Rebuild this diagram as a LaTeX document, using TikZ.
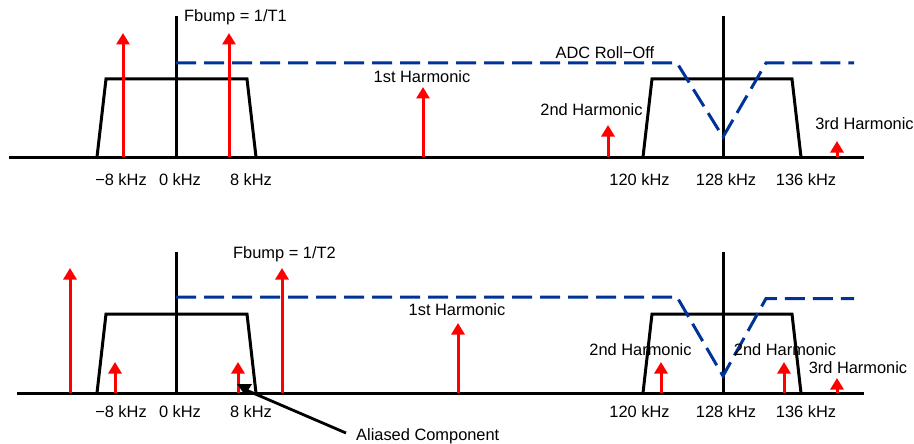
\documentclass[tikz,border=0pt]{standalone}
\usepackage{fontspec}
\setmainfont{Liberation Sans}
\usetikzlibrary{arrows.meta}
\definecolor{rollblue}{RGB}{0,51,153}
\tikzset{
  lbl/.style={inner sep=0pt, font=\fontsize{16.4}{18}\selectfont},
  blk/.style={line width=3pt, black, line join=miter},
  roll/.style={line width=3pt, rollblue, dash pattern=on 20pt off 8pt},
  tone/.style={line width=3pt, red, -{Triangle[width=13pt,length=11.5pt]}},
}
\begin{document}
\begin{tikzpicture}[x=1pt,y=-1pt]
\useasboundingbox (0,0) rectangle (914,444);
% ===== top panel =====
\draw[blk] (9,157) -- (864,157);
\draw[blk] (176,16) -- (176,157);
\draw[blk] (723,16) -- (723,157);
\draw[blk] (97,157) -- (106,79) -- (247,79) -- (256,157);
\draw[blk] (643,157) -- (652,79) -- (792,79) -- (801,157);
\draw[roll] (176,63) -- (677,63) -- (723,137) -- (766,63) -- (854,63);
\draw[tone] (123,157) -- (123,33);
\draw[tone] (229,157) -- (229,33);
\draw[tone] (423,157) -- (423,87);
\draw[tone] (608,157) -- (608,125);
\draw[tone] (837,157) -- (837,141);
\node[lbl, anchor=west] (fb1) at (184,17) {Fbump = 1/T1};
\node[lbl] (adc) at (605,53) {ADC Roll−Off};
\node[lbl] (h1a) at (422,77) {1st Harmonic};
\node[lbl] (h2a) at (591.5,110) {2nd Harmonic};
\node[lbl] (h3a) at (864.5,124) {3rd Harmonic};
\node[lbl] (ta1) at (121,180) {−8 kHz};
\node[lbl] (ta2) at (180,180) {0 kHz};
\node[lbl] (ta3) at (251,180) {8 kHz};
\node[lbl] (ta4) at (639.5,180) {120 kHz};
\node[lbl] (ta5) at (726,180) {128 kHz};
\node[lbl] (ta6) at (806,180) {136 kHz};
% ===== bottom panel =====
\draw[blk] (17,393) -- (864,393);
\draw[blk] (176,252) -- (176,393);
\draw[blk] (723,252) -- (723,393);
\draw[blk] (97,393) -- (106,314) -- (247,314) -- (256,393);
\draw[blk] (643,393) -- (652,314) -- (792,314) -- (801,393);
\draw[roll] (176,297) -- (677,297) -- (723,376) -- (766,298.5) -- (854,298.5);
\draw[tone] (70,393) -- (70,268);
\draw[tone] (115,393) -- (115,362);
\draw[tone] (238,393) -- (238,362);
\draw[tone] (282,393) -- (282,268);
\draw[tone] (458,393) -- (458,323);
\draw[tone] (661,393) -- (661,362);
\draw[tone] (784,393) -- (784,362);
\draw[tone] (837,393) -- (837,378);
\node[lbl, anchor=west] (fb2) at (233,254) {Fbump = 1/T2};
\node[lbl] (h1b) at (457,310) {1st Harmonic};
\node[lbl] (h2b) at (640.5,350) {2nd Harmonic};
\node[lbl] (h2c) at (785,350) {2nd Harmonic};
\node[lbl] (h3b) at (858,368) {3rd Harmonic};
\node[lbl] (tb1) at (121,412) {−8 kHz};
\node[lbl] (tb2) at (180,412) {0 kHz};
\node[lbl] (tb3) at (251,412) {8 kHz};
\node[lbl] (tb4) at (639.5,412) {120 kHz};
\node[lbl] (tb5) at (726,412) {128 kHz};
\node[lbl] (tb6) at (806,412) {136 kHz};
\node[lbl, anchor=west] (alias) at (356,436) {Aliased Component};
\coordinate (aliasTip) at (246,390);
\draw[line width=2.8pt] (alias.west) ++(-10,-3) -- (aliasTip);
\fill (237,384) -- (252,384) -- (245,395) -- cycle;
\end{tikzpicture}
\end{document}
